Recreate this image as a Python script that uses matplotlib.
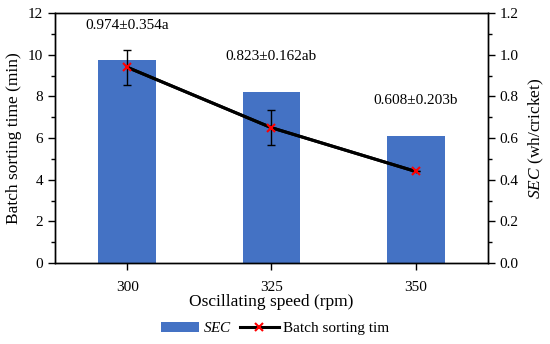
import numpy as np
import matplotlib.pyplot as plt
from matplotlib.ticker import MultipleLocator

plt.rcParams['font.family'] = ['Liberation Serif', 'DejaVu Serif']
plt.rcParams['mathtext.fontset'] = 'custom'
plt.rcParams['mathtext.it'] = 'Liberation Serif:italic'
plt.rcParams['mathtext.rm'] = 'Liberation Serif'

speeds = ['300', '325', '350']
sec = [0.974, 0.823, 0.608]
sort_time = [9.4, 6.5, 4.4]
sort_err = [0.85, 0.84, 0.0]
labels = ['0.974±0.354a', '0.823±0.162ab', '0.608±0.203b']

BAR = '#4472C4'

fig, ax = plt.subplots(figsize=(5.5, 3.44), dpi=100)
fig.subplots_adjust(left=0.1, right=0.887, top=0.962, bottom=0.235)
ax2 = ax.twinx()

x = np.arange(len(speeds))

# bars on the right axis
ax2.bar(x, sec, width=0.4, color=BAR, label='$SEC$', zorder=1)
ax2.set_ylim(0, 1.2)
ax2.yaxis.set_major_locator(MultipleLocator(0.2))
ax2.yaxis.set_minor_locator(MultipleLocator(0.1))
ax2.yaxis.set_major_formatter(plt.FormatStrFormatter('%.1f'))
ax2.set_ylabel('$SEC$ (wh/cricket)', fontsize=12.5, labelpad=6)

# line on the left axis, drawn above the bars
ax.set_zorder(ax2.get_zorder() + 1)
ax.patch.set_visible(False)
ax.errorbar(x, sort_time, yerr=sort_err, color='black', lw=2.2, ecolor='black',
            elinewidth=1, capsize=3, capthick=1, zorder=3)
ax.plot(x, sort_time, color='black', lw=2.2, marker='x', mec='red', mew=1.5, ms=6,
        label='Batch sorting tim', zorder=4)
ax.set_ylim(0, 12)
ax.yaxis.set_major_locator(MultipleLocator(2))
ax.yaxis.set_minor_locator(MultipleLocator(1))
ax.set_ylabel('Batch sorting time (min)', fontsize=12.5, labelpad=4)

ax.set_xlim(-0.5, 2.5)
ax.set_xticks(x)
ax.set_xticklabels(speeds)
ax.set_xlabel('Oscillating speed (rpm)', fontsize=12.5, labelpad=0)

label_y = [11.4, 9.9, 7.8]
for xi, yi, t in zip(x, label_y, labels):
    ax.text(xi, yi, t, ha='center', va='center', fontsize=11)

for a in (ax, ax2):
    a.tick_params(direction='out', labelsize=11, length=5, width=1)
    a.tick_params(which='minor', length=3, width=1)
    for s in a.spines.values():
        s.set_linewidth(1)
ax.tick_params(axis='x', pad=8)

h2, l2 = ax2.get_legend_handles_labels()
h1, l1 = ax.get_legend_handles_labels()
fig.legend(h2 + h1, l2 + l1, loc='lower center', ncol=2, frameon=False,
           fontsize=11, bbox_to_anchor=(0.5, -0.015), handlelength=2.5,
           columnspacing=0.5, handletextpad=0.3)

fig.savefig('out.png', dpi=100)
